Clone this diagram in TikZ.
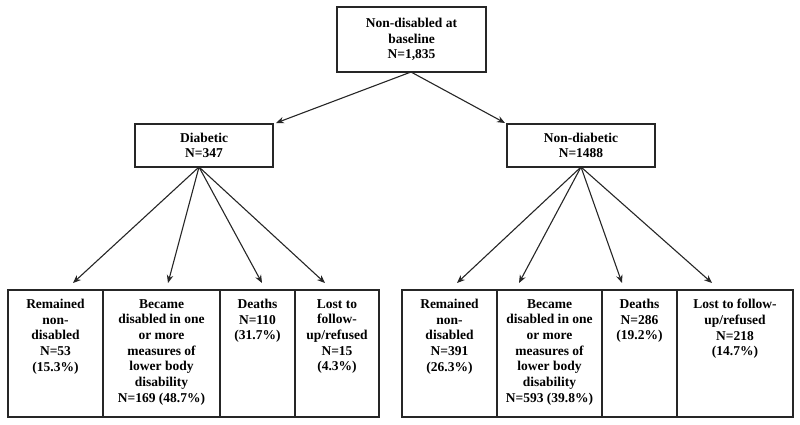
\documentclass[tikz,border=0pt]{standalone}
\usepackage{fontspec}
\setmainfont{Liberation Serif}
\usetikzlibrary{arrows.meta,calc}
\begin{document}
\begin{tikzpicture}[x=1pt,y=-1pt,
  box/.style={draw=black!85, line width=1.4pt, inner sep=0pt, outer sep=0pt, anchor=north west},
  lbl/.style={font=\fontsize{13.5}{15.7}\selectfont\bfseries, align=center, inner sep=0pt},
  arr/.style={line width=1.1pt, draw=black!85, -{Stealth[length=8pt,width=6.5pt]}}]
\useasboundingbox (0,0) rectangle (800,425);
% top level
\node[box, minimum width=149pt, minimum height=65pt] (top) at (337,7) {};
\node[lbl] (toptxt) at (top.center) {Non-disabled at\\baseline\\N=1,835};
% second level
\node[box, minimum width=138pt, minimum height=43pt] (diab) at (135,124) {};
\node[lbl] (diabtxt) at (diab.center) {Diabetic\\N=347};
\node[box, minimum width=148pt, minimum height=43pt] (nond) at (507,124) {};
\node[lbl] (nondtxt) at (nond.center) {Non-diabetic\\N=1488};
% bottom left
\node[box, minimum width=95pt, minimum height=127pt] (d1) at (8,290) {};
\node[box, minimum width=117pt, minimum height=127pt] (d2) at (103,290) {};
\node[box, minimum width=75pt, minimum height=127pt] (d3) at (220,290) {};
\node[box, minimum width=84pt, minimum height=127pt] (d4) at (295,290) {};
\node[lbl, anchor=north] (d1t) at ($(d1.north)+(0,9)$) {Remained\\non-\\disabled\\N=53\\(15.3\%)};
\node[lbl, anchor=north] (d2t) at ($(d2.north)+(0,9)$) {Became\\disabled in one\\or more\\measures of\\lower body\\disability\\N=169 (48.7\%)};
\node[lbl, anchor=north] (d3t) at ($(d3.north)+(0,9)$) {Deaths\\N=110\\(31.7\%)};
\node[lbl, anchor=north] (d4t) at ($(d4.north)+(0,9)$) {Lost to\\follow-\\up/refused\\N=15\\(4.3\%)};
% bottom right
\node[box, minimum width=95pt, minimum height=127pt] (n1) at (402,290) {};
\node[box, minimum width=105pt, minimum height=127pt] (n2) at (497,290) {};
\node[box, minimum width=75pt, minimum height=127pt] (n3) at (602,290) {};
\node[box, minimum width=116pt, minimum height=127pt] (n4) at (677,290) {};
\node[lbl, anchor=north] (n1t) at ($(n1.north)+(0,9)$) {Remained\\non-\\disabled\\N=391\\(26.3\%)};
\node[lbl, anchor=north] (n2t) at ($(n2.north)+(0,9)$) {Became\\disabled in one\\or more\\measures of\\lower body\\disability\\N=593 (39.8\%)};
\node[lbl, anchor=north] (n3t) at ($(n3.north)+(0,9)$) {Deaths\\N=286\\(19.2\%)};
\node[lbl, anchor=north] (n4t) at ($(n4.north)+(0,9)$) {Lost to follow-\\up/refused\\N=218\\(14.7\%)};
% arrow endpoints
\coordinate (topS) at (411,72);
\coordinate (diabE) at (276,123);
\coordinate (nondE) at (505,123);
\coordinate (diabS) at (199,167);
\coordinate (nondS) at (581,167);
\coordinate (d1E) at (73,283);
\coordinate (d2E) at (168,283);
\coordinate (d3E) at (262,283);
\coordinate (d4E) at (325,283);
\coordinate (n1E) at (457,283);
\coordinate (n2E) at (519,283);
\coordinate (n3E) at (622,283);
\coordinate (n4E) at (712,283);
\draw[arr] (topS) -- (diabE);
\draw[arr] (topS) -- (nondE);
\foreach \t in {d1E,d2E,d3E,d4E} \draw[arr] (diabS) -- (\t);
\foreach \t in {n1E,n2E,n3E,n4E} \draw[arr] (nondS) -- (\t);
\end{tikzpicture}
\end{document}
